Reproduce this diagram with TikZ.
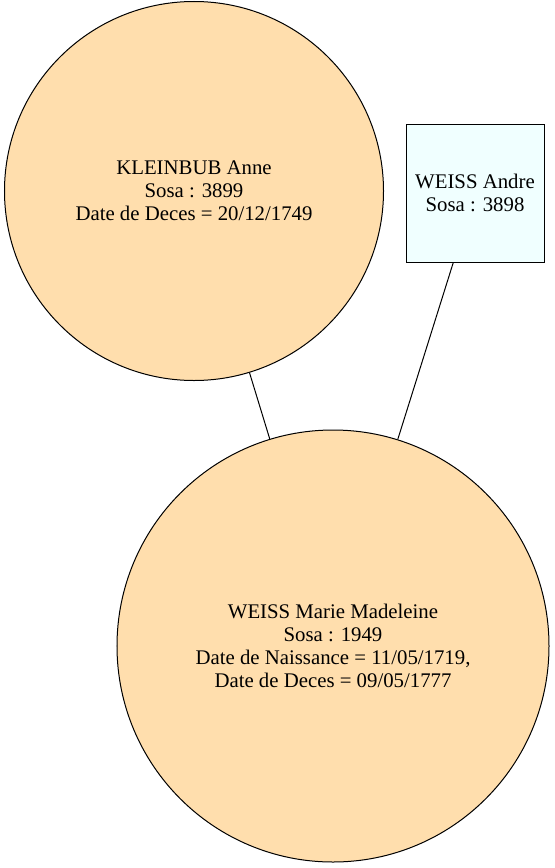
\documentclass[tikz,border=0pt]{standalone}
\usepackage{fontspec}
\setmainfont{Liberation Serif}
\definecolor{peach}{RGB}{255,222,173}
\definecolor{pale}{RGB}{240,255,255}

\begin{document}
\begin{tikzpicture}[x=1bp, y=-1bp, line width=1bp,
    every node/.style={font=\fontsize{20.8bp}{23bp}\selectfont, align=center},
    woman/.style={circle, draw, fill=peach, inner sep=0pt},
    man/.style={rectangle, draw, fill=pale, minimum size=138bp, inner sep=0pt}]

    \useasboundingbox (0,0) rectangle (555,868);

    %define the persons
    \node[woman, minimum size=379bp] (anne) at (194,191) {KLEINBUB Anne\\Sosa : 3899\\Date de Deces = 20/12/1749};
    \node[man] (andre) at (475,193) {WEISS Andre\\Sosa : 3898};
    \node[woman, minimum size=432bp] (marie) at (333,646) {WEISS Marie Madeleine\\Sosa : 1949\\Date de Naissance = 11/05/1719,\\Date de Deces = 09/05/1777};

    %define the links
    \draw (anne) -- (marie);
    \draw (andre) -- (marie);

\end{tikzpicture}
\end{document}
